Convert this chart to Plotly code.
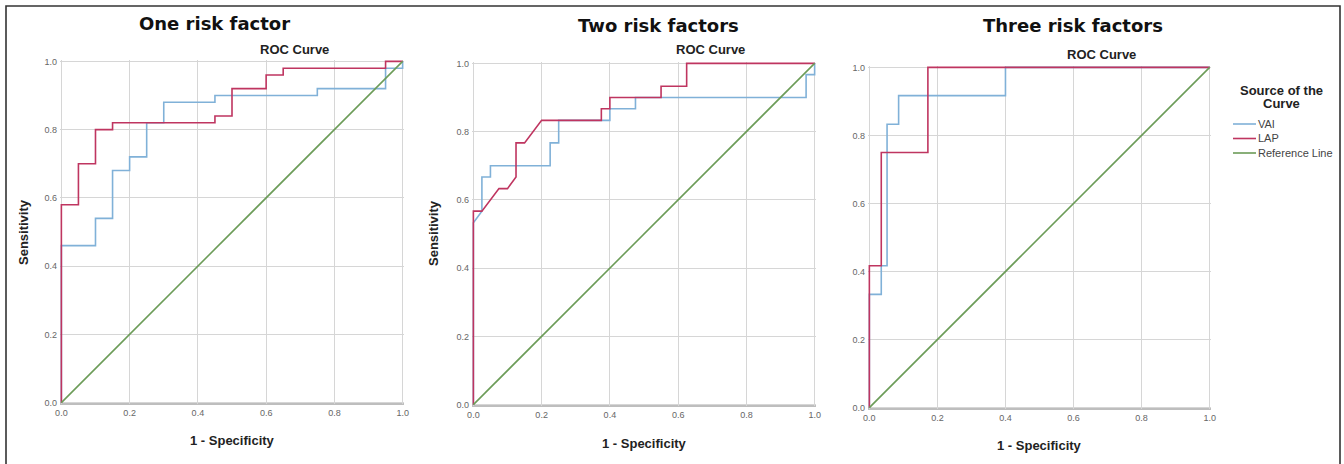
import plotly.graph_objects as go

W, H = 1344, 464

# ---------------- data ----------------
panel_titles = ["One risk factor", "Two risk factors", "Three risk factors"]
series_names = ["VAI", "LAP", "Reference Line"]
tick_vals = [0.0, 0.2, 0.4, 0.6, 0.8, 1.0]
tick_text = ["0.0", "0.2", "0.4", "0.6", "0.8", "1.0"]

p1_vai_fpr = [0, 0, 0.1, 0.1, 0.15, 0.15, 0.2, 0.2, 0.25, 0.25, 0.3, 0.3, 0.45, 0.45, 0.75, 0.75, 0.95, 0.95, 1.0, 1.0]
p1_vai_tpr = [0, 0.46, 0.46, 0.54, 0.54, 0.68, 0.68, 0.72, 0.72, 0.82, 0.82, 0.88, 0.88, 0.90, 0.90, 0.92, 0.92, 0.98, 0.98, 1.0]
p1_lap_fpr = [0, 0, 0.05, 0.05, 0.1, 0.1, 0.15, 0.15, 0.45, 0.45, 0.5, 0.5, 0.6, 0.6, 0.65, 0.65, 0.95, 0.95, 1.0]
p1_lap_tpr = [0, 0.58, 0.58, 0.70, 0.70, 0.80, 0.80, 0.82, 0.82, 0.84, 0.84, 0.92, 0.92, 0.96, 0.96, 0.98, 0.98, 1.0, 1.0]

p2_vai_fpr = [0, 0, 0.025, 0.025, 0.05, 0.05, 0.225, 0.225, 0.25, 0.25, 0.4, 0.4, 0.475, 0.475, 0.975, 0.975, 1.0, 1.0]
p2_vai_tpr = [0, 0.533, 0.567, 0.667, 0.667, 0.7, 0.7, 0.767, 0.767, 0.833, 0.833, 0.867, 0.867, 0.9, 0.9, 0.967, 0.967, 1.0]
p2_lap_fpr = [0, 0, 0.025, 0.075, 0.1, 0.125, 0.125, 0.15, 0.2, 0.375, 0.375, 0.4, 0.4, 0.55, 0.55, 0.625, 0.625, 1.0]
p2_lap_tpr = [0, 0.567, 0.567, 0.633, 0.633, 0.667, 0.767, 0.767, 0.833, 0.833, 0.867, 0.867, 0.9, 0.9, 0.933, 0.933, 1.0, 1.0]

p3_vai_fpr = [0, 0, 0.035, 0.035, 0.052, 0.052, 0.086, 0.086, 0.4, 0.4, 1.0]
p3_vai_tpr = [0, 0.333, 0.333, 0.417, 0.417, 0.833, 0.833, 0.917, 0.917, 1.0, 1.0]
p3_lap_fpr = [0, 0, 0.035, 0.035, 0.172, 0.172, 1.0]
p3_lap_tpr = [0, 0.417, 0.417, 0.75, 0.75, 1.0, 1.0]

ref_x = [0, 1]
ref_y = [0, 1]

# ---------------- styling ----------------
C_VAI = "#80b1d8"
C_LAP = "#bf3560"
C_REF = "#6c9c58"
GRID = "#d6d6d6"
AX = "#a8a8a8"
TXT = "#111111"


def px(x):
    return x / W


def py(y):
    return 1 - y / H


# plot-area boxes in pixels (left, right, top, bottom)
boxes = [(60, 404, 60, 404), (472, 816, 62, 406), (868, 1211, 66, 409)]

fig = go.Figure()

panels = [
    (p1_vai_fpr, p1_vai_tpr, p1_lap_fpr, p1_lap_tpr),
    (p2_vai_fpr, p2_vai_tpr, p2_lap_fpr, p2_lap_tpr),
    (p3_vai_fpr, p3_vai_tpr, p3_lap_fpr, p3_lap_tpr),
]

for i, (vx, vy, lx, ly) in enumerate(panels):
    xa = "x" if i == 0 else f"x{i+1}"
    ya = "y" if i == 0 else f"y{i+1}"
    for name, xs, ys, col in [
        (series_names[0], vx, vy, C_VAI),
        (series_names[1], lx, ly, C_LAP),
        (series_names[2], ref_x, ref_y, C_REF),
    ]:
        fig.add_trace(go.Scatter(
            x=xs, y=ys, mode="lines", name=name, xaxis=xa, yaxis=ya,
            line=dict(color=col, width=1.6), showlegend=False,
            hoverinfo="skip"))

axis_common = dict(
    range=[-0.004, 1.004], tickvals=tick_vals, ticktext=tick_text,
    showgrid=True, gridcolor=GRID, gridwidth=1, zeroline=False,
    showline=False, ticks="", tickfont=dict(family="Liberation Sans, Arial", size=9, color="#666666"),
    fixedrange=True, automargin=False,
)

layout_axes = {}
for i, (l, r, t, b) in enumerate(boxes):
    sx = "" if i == 0 else str(i + 1)
    layout_axes[f"xaxis{sx}"] = dict(axis_common, domain=[px(l), px(r)],
                                     anchor=f"y{sx}", ticklabelstandoff=2)
    layout_axes[f"yaxis{sx}"] = dict(axis_common, domain=[py(b), py(t)],
                                     anchor=f"x{sx}", ticklabelstandoff=2)

annotations = []
bold = "DejaVu Sans"
arial = "Liberation Sans, Arial"

title_pos = [(215, 24), (658, 25), (1073, 25)]
roc_pos = [(294, 49), (710, 50), (1101, 54)]
xt_pos = [(232, 440), (644, 443), (1039, 445)]
yt_pos = [(23, 232), (433, 233)]

for (x, y), txt in zip(title_pos, panel_titles):
    annotations.append(dict(text=f"<b>{txt}</b>", x=px(x), y=py(y), xref="paper", yref="paper",
                            showarrow=False, xanchor="center", yanchor="middle",
                            font=dict(family=bold, size=18, color=TXT)))
for (x, y) in roc_pos:
    annotations.append(dict(text="<b>ROC Curve</b>", x=px(x), y=py(y), xref="paper", yref="paper",
                            showarrow=False, xanchor="center", yanchor="middle",
                            font=dict(family=arial, size=13, color="#222222")))
for (x, y) in xt_pos:
    annotations.append(dict(text="<b>1 - Specificity</b>", x=px(x), y=py(y), xref="paper", yref="paper",
                            showarrow=False, xanchor="center", yanchor="middle",
                            font=dict(family=arial, size=13, color="#222222")))
for (x, y) in yt_pos:
    annotations.append(dict(text="<b>Sensitivity</b>", x=px(x), y=py(y), xref="paper", yref="paper",
                            showarrow=False, xanchor="center", yanchor="middle", textangle=-90,
                            font=dict(family=arial, size=13, color="#222222")))

# legend (drawn manually to match SPSS compact spacing)
annotations.append(dict(text="<b>Source of the</b>", x=px(1281.5), y=py(90), xref="paper", yref="paper",
                        showarrow=False, xanchor="center", yanchor="middle",
                        font=dict(family=arial, size=13, color="#222222")))
annotations.append(dict(text="<b>Curve</b>", x=px(1281.5), y=py(103.5), xref="paper", yref="paper",
                        showarrow=False, xanchor="center", yanchor="middle",
                        font=dict(family=arial, size=13, color="#222222")))
leg_y = [124, 138.5, 153]
leg_cols = [C_VAI, C_LAP, C_REF]
shapes = []
for name, yy, col in zip(series_names, leg_y, leg_cols):
    shapes.append(dict(type="line", xref="paper", yref="paper", x0=px(1233), x1=px(1256),
                       y0=py(yy), y1=py(yy), line=dict(color=col, width=1.6)))
    annotations.append(dict(text=name, x=px(1256), y=py(yy), xref="paper", yref="paper",
                            showarrow=False, xanchor="left", yanchor="middle",
                            font=dict(family=arial, size=11, color="#444444")))

# bottom axis lines of each plot
for (l, r, t, b) in boxes:
    shapes.append(dict(type="line", xref="paper", yref="paper", x0=px(l), x1=px(r),
                       y0=py(b), y1=py(b), line=dict(color=AX, width=1.5), layer="below"))

# outer frame (left, top, right)
shapes.append(dict(type="path", xref="paper", yref="paper",
                   path=f"M {px(6)} {py(470)} L {px(6)} {py(6)} L {px(1340)} {py(6)} L {px(1340)} {py(470)}",
                   line=dict(color="#333333", width=1.6)))

fig.update_layout(
    width=W, height=H, autosize=False,
    margin=dict(l=0, r=0, t=0, b=0, autoexpand=False),
    paper_bgcolor="white", plot_bgcolor="white",
    showlegend=False,
    annotations=annotations, shapes=shapes,
    **layout_axes,
)

fig.write_html(
    "out.html",
    config={"displayModeBar": False},
    post_script="document.documentElement.style.margin='0';document.documentElement.style.padding='0';"
                "document.body.style.margin='0';document.body.style.padding='0';"
                "document.body.style.overflow='hidden';",
)
